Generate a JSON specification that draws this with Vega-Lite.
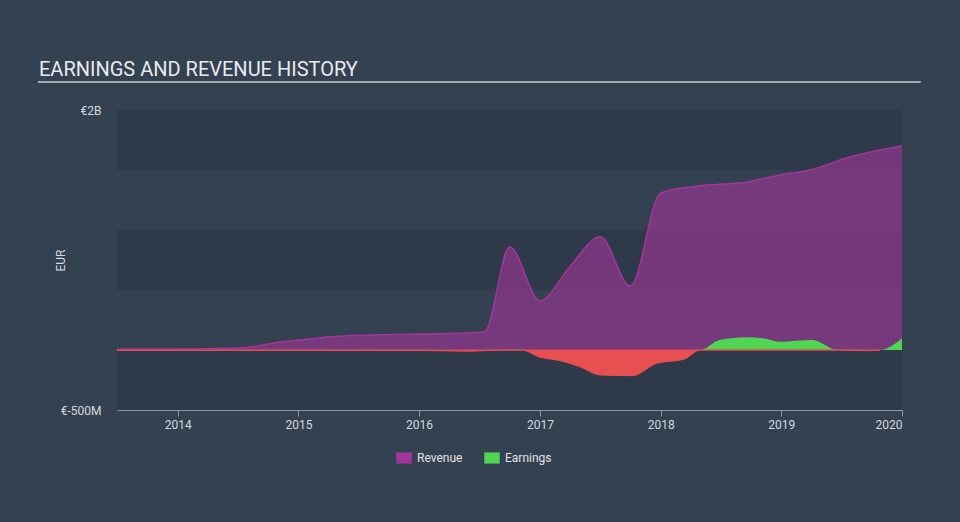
{
  "$schema": "https://vega.github.io/schema/vega-lite/v6.json",
  "width": 785,
  "height": 300,
  "autosize": {"type": "none"},
  "padding": {"left": 117, "top": 110, "right": 58, "bottom": 112},
  "background": "#344151",
  "config": {"view": {"stroke": null}, "font": "Roboto"},
  "title": {
    "text": "EARNINGS AND REVENUE HISTORY",
    "anchor": "start",
    "frame": "group",
    "fontSize": 20,
    "fontWeight": "normal",
    "color": "#e8eaed",
    "baseline": "alphabetic",
    "dx": -78,
    "offset": -15
  },
  "datasets": {
    "bands": [
      {"lo": 1500000000, "hi": 2000000000},
      {"lo": 500000000, "hi": 1000000000},
      {"lo": -500000000, "hi": 0}
    ],
    "revenue": [
      {"date": "2013-07-01", "revenue": 6000000},
      {"date": "2014-01-08", "revenue": 8000000},
      {"date": "2014-07-16", "revenue": 19000000},
      {"date": "2014-11-13", "revenue": 69000000},
      {"date": "2015-01-01", "revenue": 83000000},
      {"date": "2015-05-27", "revenue": 119000000},
      {"date": "2016-01-04", "revenue": 133000000},
      {"date": "2016-07-05", "revenue": 146000000},
      {"date": "2016-07-20", "revenue": 158000000},
      {"date": "2016-10-01", "revenue": 858000000},
      {"date": "2017-01-01", "revenue": 411000000},
      {"date": "2017-04-01", "revenue": 694000000},
      {"date": "2017-07-02", "revenue": 944000000},
      {"date": "2017-10-01", "revenue": 533000000},
      {"date": "2018-01-01", "revenue": 1308000000},
      {"date": "2018-04-08", "revenue": 1361000000},
      {"date": "2018-09-27", "revenue": 1403000000},
      {"date": "2018-12-28", "revenue": 1458000000},
      {"date": "2019-03-29", "revenue": 1500000000},
      {"date": "2019-07-27", "revenue": 1608000000},
      {"date": "2019-10-27", "revenue": 1667000000},
      {"date": "2020-01-01", "revenue": 1700000000}
    ],
    "earnings": [
      {"date": "2013-07-01", "earnings": -3000000},
      {"date": "2015-01-01", "earnings": -3000000},
      {"date": "2016-01-01", "earnings": -4000000},
      {"date": "2016-06-05", "earnings": -10000000},
      {"date": "2016-09-06", "earnings": 0},
      {"date": "2016-10-04", "earnings": 5000000},
      {"date": "2016-11-06", "earnings": 0},
      {"date": "2017-01-01", "earnings": -60000000},
      {"date": "2017-03-03", "earnings": -89000000},
      {"date": "2017-05-01", "earnings": -139000000},
      {"date": "2017-07-02", "earnings": -208000000},
      {"date": "2017-10-08", "earnings": -214000000},
      {"date": "2017-12-20", "earnings": -111000000},
      {"date": "2018-03-12", "earnings": -78000000},
      {"date": "2018-05-01", "earnings": 0},
      {"date": "2018-06-28", "earnings": 83000000},
      {"date": "2018-09-20", "earnings": 106000000},
      {"date": "2018-11-06", "earnings": 97000000},
      {"date": "2018-12-28", "earnings": 69000000},
      {"date": "2019-04-05", "earnings": 83000000},
      {"date": "2019-06-20", "earnings": 0},
      {"date": "2019-09-15", "earnings": -6000000},
      {"date": "2019-10-27", "earnings": 0},
      {"date": "2020-01-01", "earnings": 97000000}
    ]
  },
  "layer": [
    {
      "data": {"name": "bands"},
      "mark": {"type": "rect", "color": "#2e3a49"},
      "encoding": {
        "y": {
          "field": "lo", "type": "quantitative",
          "scale": {"domain": [-500000000, 2000000000], "nice": false, "zero": false},
          "title": "EUR",
          "axis": {
            "values": [-500000000, 2000000000],
            "labelExpr": "datum.value >= 1e9 ? '€' + (datum.value/1e9) + 'B' : '€' + (datum.value/1e6) + 'M'",
            "domain": false, "ticks": false, "grid": false,
            "labelPadding": 16, "labelFontSize": 12, "labelColor": "#d5d9de",
            "title": "EUR", "titleFontSize": 12, "titleFontWeight": "normal", "titleColor": "#d5d9de",
            "titleX": -50, "titleY": 150, "titleAngle": -90, "titleAlign": "center", "titleBaseline": "bottom"
          }
        },
        "y2": {"field": "hi"}
      }
    },
    {
      "data": {"name": "revenue"},
      "mark": {"type": "area", "interpolate": "monotone", "fillOpacity": 0.62, "line": {"strokeWidth": 1.5}},
      "encoding": {
        "x": {
          "field": "date", "type": "temporal",
          "scale": {"type": "utc", "domain": [{"year": 2013, "month": 7, "date": 1, "utc": true}, {"year": 2020, "month": 1, "date": 1, "utc": true}]},
          "axis": {
            "title": null, "format": "%Y", "tickCount": "year", "grid": false,
            "labelFontSize": 12, "labelColor": "#d5d9de", "labelPadding": 3, "labelFlush": true,
            "domainColor": "#8c99a8", "tickColor": "#8c99a8", "tickSize": 6, "domainWidth": 1
          }
        },
        "y": {
          "field": "revenue", "type": "quantitative", "stack": null, "title": "EUR",
          "axis": {
            "values": [-500000000, 2000000000],
            "labelExpr": "datum.value >= 1e9 ? '€' + (datum.value/1e9) + 'B' : '€' + (datum.value/1e6) + 'M'",
            "domain": false, "ticks": false, "grid": false,
            "labelPadding": 16, "labelFontSize": 12, "labelColor": "#d5d9de",
            "title": "EUR", "titleFontSize": 12, "titleFontWeight": "normal", "titleColor": "#d5d9de",
            "titleX": -50, "titleY": 150, "titleAngle": -90, "titleAlign": "center", "titleBaseline": "bottom"
          }
        },
        "color": {
          "datum": "Revenue", "type": "nominal",
          "scale": {"domain": ["Revenue", "Earnings"], "range": ["#a2369a", "#4fd653"]},
          "legend": {
            "orient": "none", "legendX": 279, "legendY": 340, "direction": "horizontal", "title": null,
            "labelColor": "#e0e3e6", "labelFontSize": 12, "symbolType": "M-1,-0.72H1V0.72H-1Z",
            "symbolSize": 240, "symbolOpacity": 1, "symbolStrokeWidth": 0, "columnPadding": 21, "labelOffset": 5, "padding": 0
          }
        }
      }
    },
    {
      "data": {"name": "earnings"},
      "transform": [{"filter": "datum.earnings >= 0"}],
      "mark": {"type": "area", "interpolate": "monotone", "fillOpacity": 1},
      "encoding": {
        "x": {"field": "date", "type": "temporal"},
        "y": {"field": "earnings", "type": "quantitative", "stack": null, "title": "EUR"},
        "color": {
          "datum": "Earnings", "type": "nominal",
          "legend": {
            "orient": "none", "legendX": 279, "legendY": 340, "direction": "horizontal", "title": null,
            "labelColor": "#e0e3e6", "labelFontSize": 12, "symbolType": "M-1,-0.72H1V0.72H-1Z",
            "symbolSize": 240, "symbolOpacity": 1, "symbolStrokeWidth": 0, "columnPadding": 21, "labelOffset": 5, "padding": 0
          }
        }
      }
    },
    {
      "data": {"name": "earnings"},
      "transform": [{"filter": "datum.earnings <= 0"}],
      "mark": {"type": "area", "interpolate": "monotone", "color": "#e84f50", "stroke": "#e84f50", "strokeWidth": 1},
      "encoding": {
        "x": {"field": "date", "type": "temporal"},
        "y": {"field": "earnings", "type": "quantitative", "stack": null, "title": "EUR"}
      }
    },
    {
      "data": {"values": [{}]},
      "mark": {"type": "rule", "color": "#a3aab3", "strokeWidth": 2},
      "encoding": {
        "x": {"datum": {"year": 2012, "month": 11, "date": 4, "utc": true}, "type": "temporal"},
        "x2": {"datum": {"year": 2020, "month": 2, "date": 27, "utc": true}},
        "y": {"datum": 2233000000, "type": "quantitative", "title": "EUR"}
      }
    }
  ]
}
